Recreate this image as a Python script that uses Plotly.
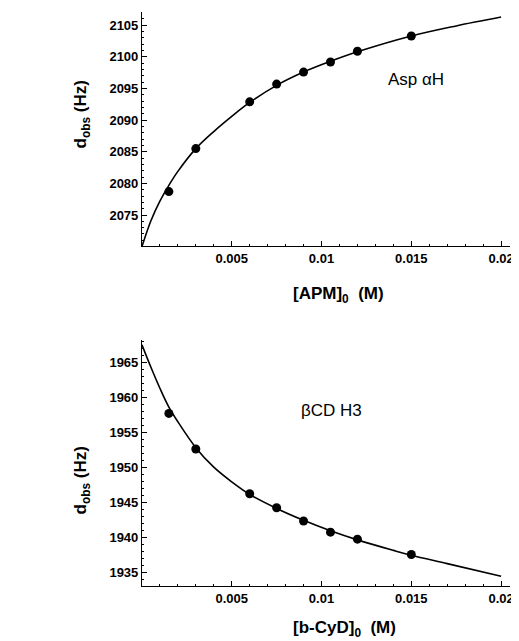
import plotly.graph_objects as go

# --- Data ---
apm_conc = [0.0015, 0.003, 0.006, 0.0075, 0.009, 0.0105, 0.012, 0.015]
asp_obs = [2078.7, 2085.5, 2092.9, 2095.7, 2097.6, 2099.2, 2100.9, 2103.3]

apm_fit_x = [0, 0.0005, 0.001, 0.0015, 0.002, 0.003, 0.004, 0.005, 0.006,
             0.0075, 0.009, 0.0105, 0.012, 0.015, 0.0175, 0.02]
apm_fit_y = [2070.0, 2074.1, 2077.2, 2079.7, 2081.9, 2085.5, 2088.2, 2090.6,
             2092.8, 2095.5, 2097.6, 2099.3, 2100.8, 2103.3, 2104.9, 2106.3]

cyd_conc = [0.0015, 0.003, 0.006, 0.0075, 0.009, 0.0105, 0.012, 0.015]
h3_obs = [1957.7, 1952.6, 1946.2, 1944.2, 1942.3, 1940.7, 1939.7, 1937.5]

cyd_fit_x = [0, 0.0005, 0.001, 0.0015, 0.002, 0.003, 0.004, 0.005, 0.006,
             0.0075, 0.009, 0.0105, 0.012, 0.014, 0.015, 0.017, 0.02]
cyd_fit_y = [1967.5, 1964.3, 1961.3, 1958.6, 1956.5, 1952.8, 1950.0, 1947.9,
             1946.1, 1944.1, 1942.4, 1940.9, 1939.6, 1938.1, 1937.4, 1936.2, 1934.4]

x_ticks = [0.005, 0.01, 0.015, 0.02]
x_tick_text = ["0.005", "0.01", "0.015", "0.02"]
top_y_ticks = [2075, 2080, 2085, 2090, 2095, 2100, 2105]
bot_y_ticks = [1935, 1940, 1945, 1950, 1955, 1960, 1965]

# page has an 8px body margin; figure sized to fill the rest of the window
OFF = 8
W, H = 511, 633
FONT = "Liberation Sans, Arial, sans-serif"

fig = go.Figure()

fig.add_trace(go.Scatter(x=apm_fit_x, y=apm_fit_y, mode="lines",
                         line=dict(color="black", width=1.6, shape="spline"),
                         xaxis="x", yaxis="y", showlegend=False, hoverinfo="skip"))
fig.add_trace(go.Scatter(x=apm_conc, y=asp_obs, mode="markers", marker=dict(color="black", size=9),
                         xaxis="x", yaxis="y", showlegend=False))
fig.add_trace(go.Scatter(x=cyd_fit_x, y=cyd_fit_y, mode="lines",
                         line=dict(color="black", width=1.6, shape="spline"),
                         xaxis="x2", yaxis="y2", showlegend=False, hoverinfo="skip"))
fig.add_trace(go.Scatter(x=cyd_conc, y=h3_obs, mode="markers", marker=dict(color="black", size=9),
                         xaxis="x2", yaxis="y2", showlegend=False))


def px_x(p):
    return (p - OFF) / W


def px_y(p):
    return (H - (p - OFF)) / H


# x = 0 at page px 143, x = 0.02 at page px 505
x0_px, x02_px, xend_px = 143, 505, 514
scale = (x02_px - x0_px) / 0.02
xdom = [px_x(x0_px), px_x(xend_px)]
xrange_ = [0, (xend_px - x0_px) / scale]
tickfont = dict(family=FONT, size=13, color="black", weight="bold")

axis_common = dict(showline=True, linecolor="black", linewidth=1, showgrid=False, zeroline=False,
                   ticks="inside", ticklen=5, tickwidth=1, tickcolor="black", tickfont=tickfont)

fig.update_layout(
    width=W, height=H,
    margin=dict(l=0, r=0, t=0, b=0),
    paper_bgcolor="white", plot_bgcolor="white",
    xaxis=dict(domain=xdom, range=xrange_, anchor="y", tickvals=x_ticks, ticktext=x_tick_text,
               minor=dict(dtick=0.001, tick0=0, ticks="inside", ticklen=2, tickcolor="black"), **axis_common),
    yaxis=dict(domain=[px_y(246), px_y(12)], range=[2070.1, 2107.1], anchor="x", tickvals=top_y_ticks,
               minor=dict(dtick=1, tick0=2070, ticks="inside", ticklen=2, tickcolor="black"), **axis_common),
    xaxis2=dict(domain=xdom, range=xrange_, anchor="y2", tickvals=x_ticks, ticktext=x_tick_text,
                minor=dict(dtick=0.001, tick0=0, ticks="inside", ticklen=2, tickcolor="black"), **axis_common),
    yaxis2=dict(domain=[px_y(586), px_y(340)], range=[1933.0, 1968.2], anchor="x2", tickvals=bot_y_ticks,
                minor=dict(dtick=1, tick0=1930, ticks="inside", ticklen=2, tickcolor="black"), **axis_common),
)

titlefont = dict(family=FONT, size=17, color="black", weight="bold")
notefont = dict(family=FONT, size=17, color="black")
ytitle = "d<sub>obs</sub> (Hz)"
ann = [
    dict(x=px_x(83), y=px_y(114), text=ytitle, textangle=-90, font=titlefont),
    dict(x=px_x(83), y=px_y(480), text=ytitle, textangle=-90, font=titlefont),
    dict(x=px_x(341), y=px_y(295), text="[APM]<sub>0</sub>  (M)", font=titlefont),
    dict(x=px_x(347), y=px_y(629), text="[b-CyD]<sub>0</sub>  (M)", font=titlefont),
    dict(x=px_x(419), y=px_y(80), text="Asp αH", font=notefont),
    dict(x=px_x(334), y=px_y(410), text="βCD H3", font=notefont),
]
for a in ann:
    fig.add_annotation(xref="paper", yref="paper", showarrow=False,
                       xanchor="center", yanchor="middle", **a)

fig.write_html("out.html")
